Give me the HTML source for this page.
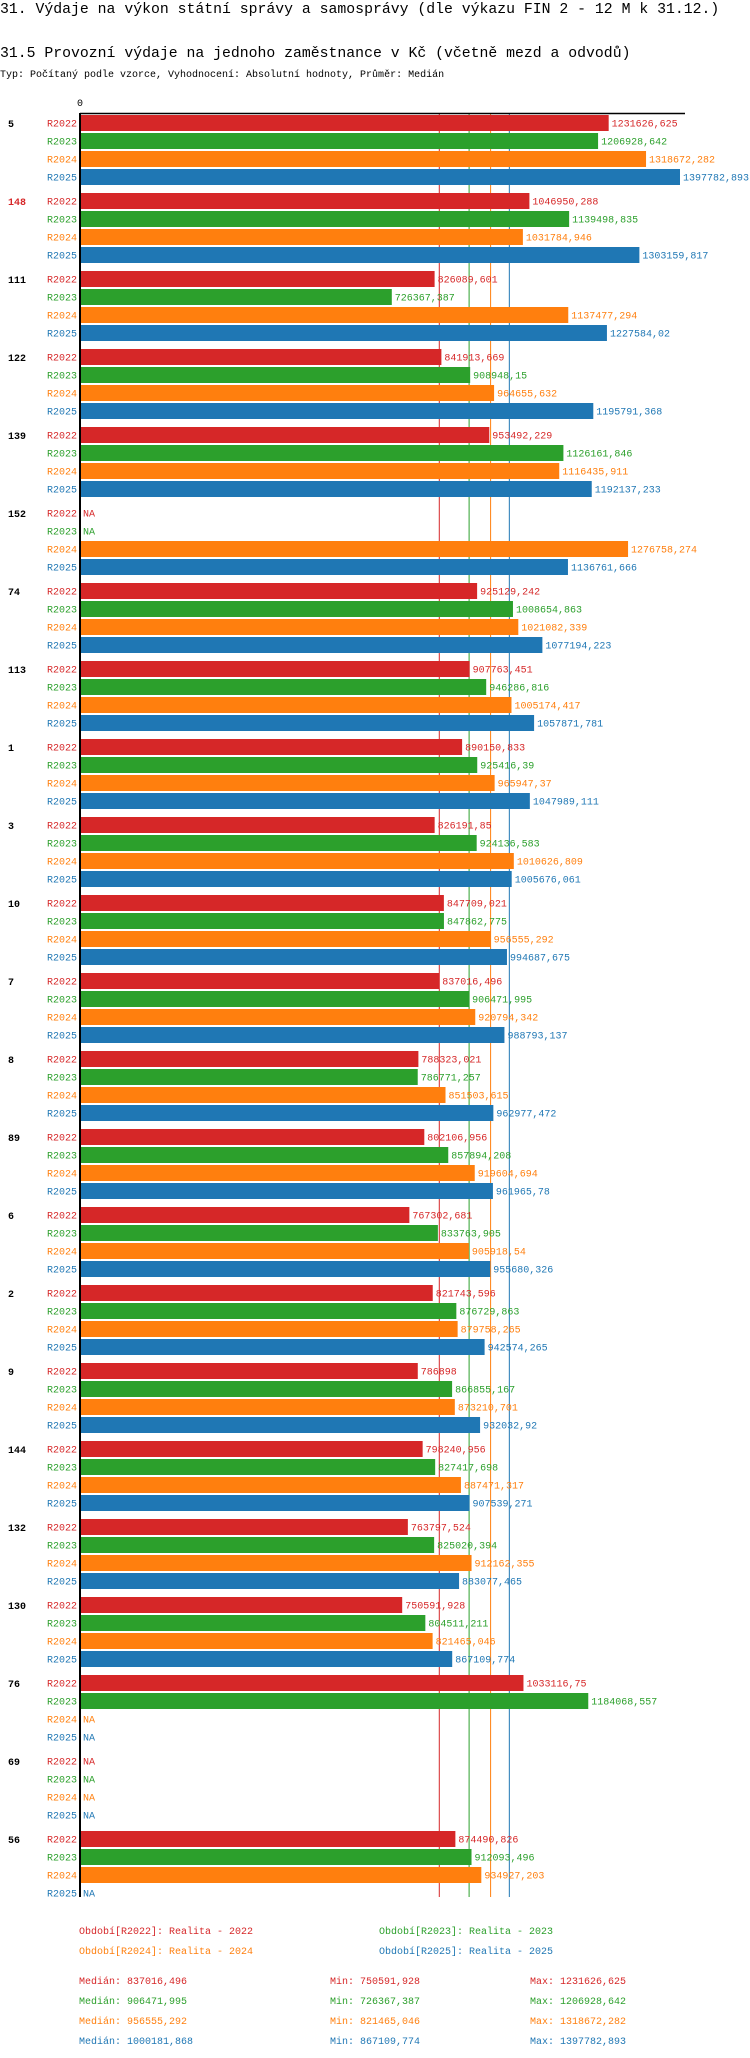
<!DOCTYPE html>
<html><head><meta charset="utf-8">
<style>
body{margin:0;background:#fff;width:750px;height:2058px;overflow:hidden}
svg{display:block;font-family:"Liberation Mono",monospace}
</style></head>
<body>
<svg id="chart" width="750" height="2058" xmlns="http://www.w3.org/2000/svg">
<text x="0" y="13" font-size="14.8">31. Výdaje na výkon státní správy a samosprávy (dle výkazu FIN 2 - 12 M k 31.12.)</text>
<text x="0" y="57" font-size="14.8">31.5 Provozní výdaje na jednoho zaměstnance v Kč (včetně mezd a odvodů)</text>
<text x="0" y="77" font-size="10">Typ: Počítaný podle vzorce, Vyhodnocení: Absolutní hodnoty, Průměr: Medián</text>
<text x="80" y="106" font-size="10" text-anchor="middle">0</text>
<g id="marks"></g>
</svg>
<script>
const groups=["5","148","111","122","139","152","74","113","1","3","10","7","8","89","6","2","9","144","132","130","76","69","56"];
const series=["R2022","R2023","R2024","R2025"];
const colors=["#d62728","#2ca02c","#ff7f0e","#1f77b4"];
const v2022=[1231626.625,1046950.288,826089.601,841913.669,953492.229,null,925129.242,907763.451,890150.833,826191.85,847709.021,837016.496,788323.021,802106.956,767302.681,821743.596,786898,798240.956,763797.524,750591.928,1033116.75,null,874490.826];
const v2023=[1206928.642,1139498.835,726367.387,908948.15,1126161.846,null,1008654.863,946286.816,925416.39,924136.583,847862.775,906471.995,786771.257,857894.208,833763.905,876729.863,866855.167,827417.698,825020.394,804511.211,1184068.557,null,912093.496];
const v2024=[1318672.282,1031784.946,1137477.294,964655.632,1116435.911,1276758.274,1021082.339,1005174.417,965947.37,1010626.809,956555.292,920794.342,851503.615,919604.694,905918.54,879758.265,873210.701,887471.317,912162.355,821465.046,null,null,934927.203];
const v2025=[1397782.893,1303159.817,1227584.02,1195791.368,1192137.233,1136761.666,1077194.223,1057871.781,1047989.111,1005676.061,994687.675,988793.137,962977.472,961965.78,955680.326,942574.265,932032.92,907539.271,883077.465,867109.774,null,null,null];
const medians=[837016.496,906471.995,956555.292,1000181.868];
const mins=[750591.928,726367.387,821465.046,867109.774];
const maxs=[1231626.625,1206928.642,1318672.282,1397782.893];
const legendText=["Realita - 2022","Realita - 2023","Realita - 2024","Realita - 2025"];
const highlight="148";

const vals=[v2022,v2023,v2024,v2025];
const X0=80,K=(680-80)/1397782.893,TOP=115,GP=78,RP=18,BH=16;
const x=v=>X0+v*K;
const fmt=v=>String(v).replace('.',',');
const NS="http://www.w3.org/2000/svg";
const g=document.getElementById('marks');
function mk(t,a,txt){const e=document.createElementNS(NS,t);for(const k in a)e.setAttribute(k,a[k]);if(txt!==undefined)e.textContent=txt;g.appendChild(e);return e;}
const bottom=TOP+groups.length*GP-GP+4*RP-6;
medians.forEach((m,i)=>{
  const l=mk('line',{x1:x(m),x2:x(m),y1:TOP-2,y2:bottom,stroke:colors[i],'stroke-width':1});
  
  
});
groups.forEach((gn,gi)=>{
  const gy=TOP+gi*GP;
  const gl=mk('text',{x:8,y:gy+12,'font-size':10,'font-weight':'bold',fill:gn===highlight?'#d62728':'#000'},gn);
  
  
  series.forEach((s,si)=>{
    const y=gy+si*RP;const v=vals[si][gi];
    const rl=mk('text',{x:77,y:y+11.5,'font-size':10,'text-anchor':'end',fill:colors[si]},s);
    
    
    if(v!==null){
      const r=mk('rect',{x:X0,y:y,width:x(v)-X0,height:BH,fill:colors[si]});
      
      
    }
    const vl=mk('text',{x:(v!==null?x(v):X0)+3,y:y+11.5,'font-size':10,fill:colors[si]},v!==null?fmt(v):'NA');
    
    
  });
});
const ax=mk('line',{x1:X0,x2:X0,y1:TOP-2,y2:bottom,stroke:'#000','stroke-width':2});


const tx=mk('line',{x1:X0,x2:685,y1:TOP-1.5,y2:TOP-1.5,stroke:'#000','stroke-width':1.5});


series.forEach((s,i)=>{
  const lx=i%2===0?79:379,ly=1934+Math.floor(i/2)*20;
  const le=mk('text',{x:lx,y:ly,'font-size':10,fill:colors[i]},'Období['+s+']: '+legendText[i]);
  
  
  const sy=1984+i*20;
  const a=mk('text',{x:79,y:sy,'font-size':10,fill:colors[i]},'Medián: '+fmt(medians[i]));
  
  
  const b=mk('text',{x:330,y:sy,'font-size':10,fill:colors[i]},'Min: '+fmt(mins[i]));
  
  
  const c=mk('text',{x:530,y:sy,'font-size':10,fill:colors[i]},'Max: '+fmt(maxs[i]));
  
  
});
</script>
</body></html>
